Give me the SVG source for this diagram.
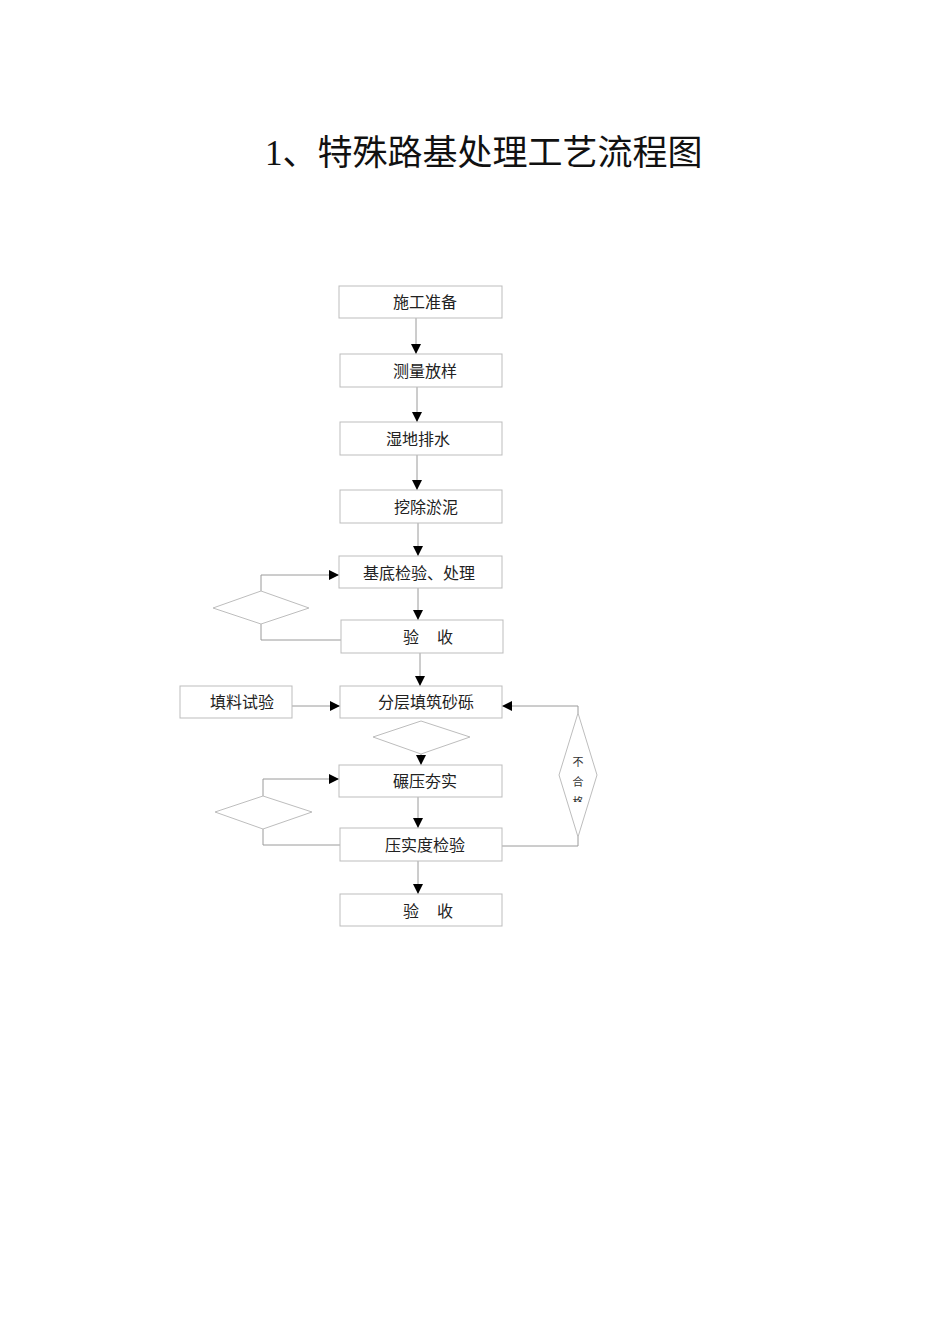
<svg xmlns="http://www.w3.org/2000/svg" width="950" height="1344" viewBox="0 0 950 1344">
<style>
.box{fill:#fff;stroke:#bdbdbd;stroke-width:1}
.dia{fill:none;stroke:#bdbdbd;stroke-width:1}
.ln{fill:none;stroke:#9a9a9a;stroke-width:1}
.t{font-family:"Liberation Serif","Noto Sans CJK SC",serif;font-size:16px;fill:#222}
.s{font-family:"Liberation Serif","Noto Sans CJK SC",serif;font-size:11px;fill:#333}
.title{font-family:"Liberation Serif","Noto Sans CJK SC",serif;font-size:35px;fill:#111}
</style>
<defs>
<marker id="ah" markerUnits="userSpaceOnUse" markerWidth="10" markerHeight="10" refX="10" refY="5" orient="auto">
<path d="M0,0 L10,5 L0,10 z" fill="#000"/>
</marker>
<clipPath id="clipR"><rect x="555" y="710" width="50" height="92"/></clipPath>
</defs>
<rect width="950" height="1344" fill="#fff"/>
<text class="title" x="265" y="165">1、特殊路基处理工艺流程图</text>

<g id="connectors">
<line class="ln" x1="416" y1="318" x2="416" y2="354" marker-end="url(#ah)"/>
<line class="ln" x1="417" y1="387" x2="417" y2="422" marker-end="url(#ah)"/>
<line class="ln" x1="417" y1="455" x2="417" y2="490" marker-end="url(#ah)"/>
<line class="ln" x1="418" y1="523" x2="418" y2="556" marker-end="url(#ah)"/>
<line class="ln" x1="418" y1="588" x2="418" y2="620" marker-end="url(#ah)"/>
<polyline class="ln" points="261,591 261,575 339,575" marker-end="url(#ah)"/>
<polyline class="ln" points="261,624 261,640 341,640"/>
<line class="ln" x1="420" y1="653" x2="420" y2="686" marker-end="url(#ah)"/>
<line class="ln" x1="292" y1="706" x2="340" y2="706" marker-end="url(#ah)"/>
<line class="ln" x1="421" y1="754" x2="421" y2="765" marker-end="url(#ah)"/>
<line class="ln" x1="418" y1="797" x2="418" y2="828" marker-end="url(#ah)"/>
<polyline class="ln" points="263,796 263,779 339,779" marker-end="url(#ah)"/>
<polyline class="ln" points="263,829 263,845 340,845"/>
<polyline class="ln" points="502,846 578,846 578,837"/>
<polyline class="ln" points="578,713 578,706 502,706" marker-end="url(#ah)"/>
<line class="ln" x1="418" y1="861" x2="418" y2="894" marker-end="url(#ah)"/>
</g>

<g id="n1"><rect class="box" x="339" y="286" width="163" height="32"/><text class="t" x="393" y="308">施工准备</text></g>
<g id="n2"><rect class="box" x="340" y="354" width="162" height="33"/><text class="t" x="393" y="377">测量放样</text></g>
<g id="n3"><rect class="box" x="340" y="422" width="162" height="33"/><text class="t" x="386" y="445">湿地排水</text></g>
<g id="n4"><rect class="box" x="340" y="490" width="162" height="33"/><text class="t" x="394" y="513">挖除淤泥</text></g>
<g id="n5"><rect class="box" x="339" y="556" width="163" height="32"/><text class="t" x="363" y="579">基底检验、处理</text></g>
<g id="d1"><polygon class="dia" points="213,608 261,591 309,608 261,624"/></g>
<g id="n6"><rect class="box" x="341" y="620" width="162" height="33"/><text class="t" x="403" y="643">验</text><text class="t" x="437" y="643">收</text></g>
<g id="n7"><rect class="box" x="180" y="686" width="112" height="32"/><text class="t" x="210" y="708">填料试验</text></g>
<g id="n8"><rect class="box" x="340" y="686" width="162" height="32"/><text class="t" x="378" y="708">分层填筑砂砾</text></g>
<g id="d2"><polygon class="dia" points="373,737 421,721 470,737 421,754"/></g>
<g id="n9"><rect class="box" x="339" y="765" width="163" height="32"/><text class="t" x="393" y="787">碾压夯实</text></g>
<g id="d3"><polygon class="dia" points="215,812 263,796 312,812 263,829"/></g>
<g id="n10"><rect class="box" x="340" y="828" width="162" height="33"/><text class="t" x="385" y="851">压实度检验</text></g>
<g id="d4"><polygon class="dia" points="578,713 597,775 578,837 559,775"/>
<g clip-path="url(#clipR)"><text class="s" x="578" y="766" text-anchor="middle">不</text><text class="s" x="578" y="786" text-anchor="middle">合</text><text class="s" x="578" y="806" text-anchor="middle">格</text></g></g>
<g id="n11"><rect class="box" x="340" y="894" width="162" height="32"/><text class="t" x="403" y="917">验</text><text class="t" x="437" y="917">收</text></g>
</svg>
